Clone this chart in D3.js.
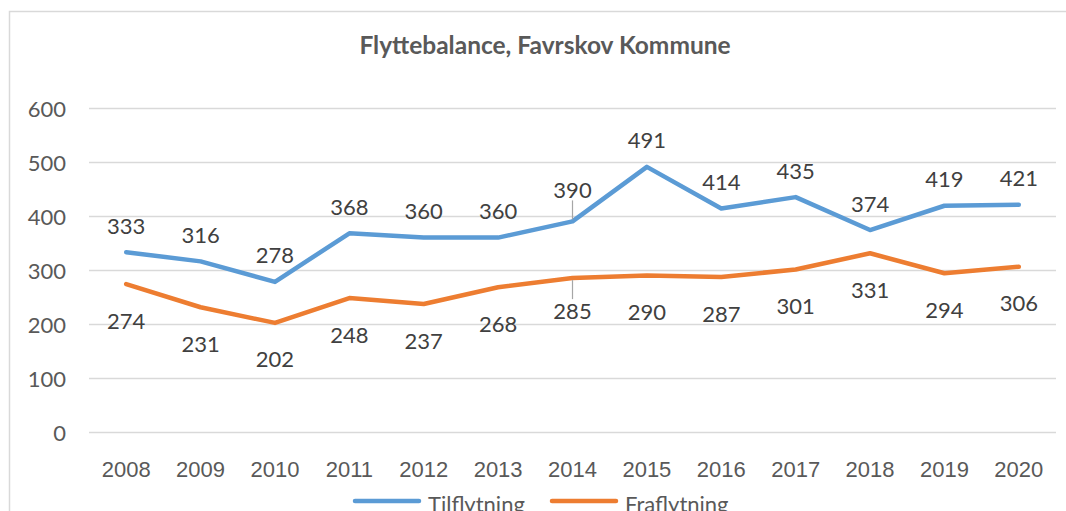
<!DOCTYPE html>
<html>
<head>
<meta charset="utf-8">
<script src="https://cdn.jsdelivr.net/npm/d3@7"></script>
<style>
  body { margin: 0; background: #fff; }
  svg { display: block; font-family: Lato, "Open Sans", sans-serif; }
</style>
</head>
<body>
<svg id="chart" width="1066" height="511"></svg>
<script>
"use strict";

// chart data
var years = ["2008", "2009", "2010", "2011", "2012", "2013", "2014",
             "2015", "2016", "2017", "2018", "2019", "2020"];
var tilflytning = [333, 316, 278, 368, 360, 360, 390, 491, 414, 435, 374, 419, 421];
var fraflytning = [274, 231, 202, 248, 237, 268, 285, 290, 287, 301, 331, 294, 306];
var yTicks = [0, 100, 200, 300, 400, 500, 600];
var seriesNames = ["Tilflytning", "Fraflytning"];

var W = 1066, H = 511;
var margin = { left: 89, right: 10, top: 108, bottom: 79 };
var textColor = "#595959";
var colors = ["#5B9BD5", "#ED7D31"];

var svg = d3.select("#chart");

// outer chart frame (runs past the right and bottom edge)
svg.append("rect")
    .attr("x", 9.5).attr("y", 11.5)
    .attr("width", 1100).attr("height", 600)
    .attr("fill", "none")
    .attr("stroke", "#D9D9D9")
    .attr("stroke-width", 1.5);

var x = d3.scaleBand()
    .domain(years)
    .range([margin.left, W - margin.right]);

var y = d3.scaleLinear()
    .domain([0, 600])
    .range([H - margin.bottom, margin.top]);

// title
svg.append("text")
    .attr("x", 545).attr("y", 44)
    .attr("text-anchor", "middle")
    .attr("dominant-baseline", "central")
    .attr("font-weight", "bold")
    .attr("font-size", 24.5)
    .attr("fill", textColor)
    .text("Flyttebalance, Favrskov Kommune");

// gridlines
svg.append("g")
    .selectAll("line")
    .data(yTicks)
    .join("line")
    .attr("x1", margin.left).attr("x2", W - margin.right)
    .attr("y1", d => Math.round(y(d)) + 0.5)
    .attr("y2", d => Math.round(y(d)) + 0.5)
    .attr("stroke", "#D9D9D9")
    .attr("stroke-width", 1.5);

// y tick labels
svg.append("g")
    .selectAll("text")
    .data(yTicks)
    .join("text")
    .attr("x", 66)
    .attr("y", d => y(d))
    .attr("text-anchor", "end")
    .attr("dominant-baseline", "central")
    .attr("font-size", 22)
    .attr("fill", textColor)
    .text(d => d);

// x labels
var xAxis = d3.axisBottom(x).tickSize(0).tickPadding(0);
var gx = svg.append("g")
    .attr("transform", "translate(0," + 469 + ")")
    .call(xAxis);
gx.select(".domain").remove();
gx.selectAll("text")
    .attr("dy", null)
    .attr("dominant-baseline", "central")
    .attr("font-size", 22)
    .attr("font-family", null)
    .attr("fill", textColor);

var cx = d => x(d) + x.bandwidth() / 2;

var line = d3.line()
    .x((d, i) => cx(years[i]))
    .y(d => y(d));

var series = [tilflytning, fraflytning];

series.forEach(function(s, k) {
    svg.append("path")
        .datum(s)
        .attr("d", line)
        .attr("fill", "none")
        .attr("stroke", colors[k])
        .attr("stroke-width", 4.5)
        .attr("stroke-linejoin", "round")
        .attr("stroke-linecap", "round");
});

// labels moved away from their points get a leader line
var moved = { "Tilflytning:2014": -5, "Fraflytning:2014": -4 };

series.forEach(function(s, k) {
    var above = k === 0;
    s.forEach(function(v, i) {
        var key = seriesNames[k] + ":" + years[i];
        var off = above ? -27 : 36;
        var nudge = moved[key] || 0;
        var ly = y(v) + off + nudge;
        if (nudge) {
            svg.append("line")
                .attr("x1", cx(years[i])).attr("x2", cx(years[i]))
                .attr("y1", above ? ly + 11 : y(v) + 2)
                .attr("y2", above ? y(v) - 2 : ly - 11)
                .attr("stroke", "#A6A6A6")
                .attr("stroke-width", 1.2);
        }
        svg.append("text")
            .attr("x", cx(years[i]))
            .attr("y", ly)
            .attr("text-anchor", "middle")
            .attr("dominant-baseline", "central")
            .attr("font-size", 22)
            .attr("fill", "#404040")
            .text(v);
    });
});

// legend
var legendX = [355, 552];
seriesNames.forEach(function(name, k) {
    svg.append("line")
        .attr("x1", legendX[k]).attr("x2", legendX[k] + 64)
        .attr("y1", 501).attr("y2", 501)
        .attr("stroke", colors[k])
        .attr("stroke-width", 4.5)
        .attr("stroke-linecap", "round");
    svg.append("text")
        .attr("x", legendX[k] + 73)
        .attr("y", 503)
        .attr("dominant-baseline", "central")
        .attr("font-size", 22)
        .attr("fill", textColor)
        .text(name);
});
</script>
</body>
</html>
